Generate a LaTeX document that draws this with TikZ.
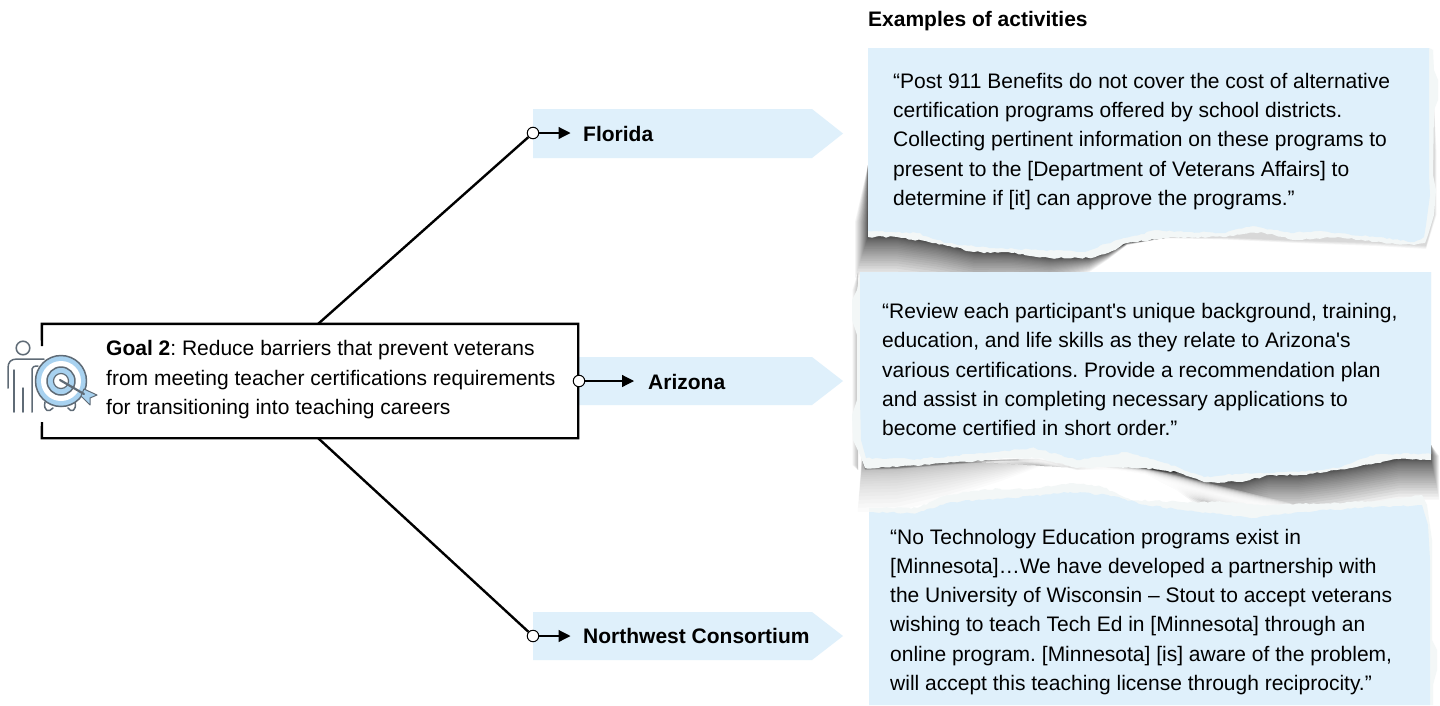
\documentclass[tikz,border=0pt]{standalone}
\usepackage{fontspec}
\newfontfamily\arialf{Liberation Sans}
\usetikzlibrary{arrows.meta,decorations.pathmorphing}
\AtBeginDocument{\frenchspacing}
\definecolor{paper}{HTML}{DFF0FB}
\definecolor{rim}{HTML}{F3F7F7}
\definecolor{iconline}{HTML}{5F6B76}
\definecolor{iconblue}{HTML}{A8D2F0}
\tikzset{
  quote/.style={anchor=west,align=left,inner sep=0pt,font=\arialf\fontsize{21}{29.1}\selectfont},
  goaltext/.style={anchor=west,align=left,inner sep=0pt,font=\arialf\fontsize{21}{29.5}\selectfont},
  place/.style={anchor=west,inner sep=0pt,font=\arialf\bfseries\fontsize{21}{24}\selectfont},
  banner/.style={fill=paper},
  port/.style={circle,draw=black,fill=white,line width=1pt,minimum size=11.5pt,inner sep=0pt},
  heavy/.style={draw=black,line width=2.4pt},
  light/.style={draw=black,line width=1.2pt,-{Triangle[length=12pt,width=12pt]}},
  torn/.style={decoration={random steps,segment length=3.5pt,amplitude=.9pt}},
  ic/.style={draw=iconline,line width=1.5pt,line cap=round,line join=round},
}
\begin{document}
\begin{tikzpicture}[x=1pt,y=-1pt]
\useasboundingbox (0,0) rectangle (1440,705);
\fill[white] (0,0) rectangle (1440,705);
\pgfmathsetseed{11}

% banners
\fill[banner] (533,109) -- (812,109) -- (843,133.5) -- (812,158) -- (533,158) -- cycle;
\fill[banner] (578,357) -- (812,357) -- (843,381) -- (812,405) -- (578,405) -- cycle;
\fill[banner] (533,612) -- (812,612) -- (843,636) -- (812,660) -- (533,660) -- cycle;

% shadow of panel 1
\foreach \i in {1,...,26}{
  \pgfmathsetmacro\d{.06*\i*\i}
  \fill[black,opacity=.042] (868,165) -- (868-.32*\d,222) -- (868-.32*\d,237+\d) -- (897,237+\d) -- (936,243+.98*\d) -- (974,252+.92*\d) -- (1012,253+.85*\d) -- (1050,258+.7*\d) -- (1089,258+.35*\d) -- (1108,253+.16*\d) -- (1127,243+.05*\d) -- (1165,238) -- cycle;
}
\foreach \i in {1,...,5}{
  \fill[black,opacity=.03] (1165,238) -- (1223,237+.5*\i) -- (1295,240+.6*\i) -- (1376,242+.8*\i) -- (1426,245+.8*\i) -- (1434+.5*\i,215) -- (1434+.5*\i,150) -- (1434,105) -- cycle;
}
% shadow of panel 2
\foreach \i in {1,...,20}{
  \pgfmathsetmacro\d{.11*\i*\i}
  \fill[black,opacity=.016] (862,455) -- (862-.1*\d,468+\d) -- (897,467+\d) -- (947,463+.8*\d) -- (1001,459+.5*\d) -- (1039,458+.2*\d) -- (1077,468) -- cycle;
}
\foreach \i in {1,...,5}{
  \fill[black,opacity=.09] (862,460) -- (865,468+.4*\i) -- (897,467+.4*\i) -- (947,463+.4*\i) -- (1001,459+.4*\i) -- (1039,458+.4*\i) -- (1077,468+.4*\i) -- (1108,467+.4*\i) -- (1146,468+.4*\i) -- (1177,472+.4*\i) -- (1177,460) -- cycle;
}
\foreach \i in {1,...,26}{
  \pgfmathsetmacro\d{.06*\i*\i}
  \fill[black,opacity=.042] (1085,460) -- (1108,467+.03*\d) -- (1146,468+.15*\d) -- (1177,472+.45*\d) -- (1204,482+.7*\d) -- (1242,482+.9*\d) -- (1269,475+\d) -- (1299,475+\d) -- (1337,470+\d) -- (1376,463+\d) -- (1399,459+\d) -- (1431+.2*\d,459+\d) -- (1431+.2*\d,456) -- (1431,445) -- cycle;
}
\foreach \w in {2,4,...,18}{
  \draw[white,opacity=.28,line width=\w pt] (1020,452) .. controls (1110,468) and (1180,485) .. (1300,515);
}
\foreach \i in {1,...,8}{
  \fill[black,opacity=.03] (858,272) -- (858-.7*\i,290) -- (858-.7*\i,465) -- (858,470) -- cycle;
}

% panel 1
\fill[rim,torn] (868,48) -- (1429,48) -- (1433,50) -- (1434,70) -- (1438,80) -- (1438,100) -- (1434,110) -- (1433,175) -- (1436,190) -- (1434,215) -- (1428,235) decorate { -- (1425,243) -- (1414,245) -- (1376,242) -- (1338,237) -- (1295,240) -- (1261,232) -- (1223,237) -- (1165,238) -- (1127,243) -- (1108,253) -- (1089,258) -- (1050,258) -- (1012,253) -- (974,252) -- (936,243) -- (897,237) -- (868,237)} -- cycle;
\fill[paper,torn] (868,48) -- (1429,48) -- (1429,175) -- (1430,195) -- (1426,225) -- (1424,237) decorate { -- (1414,242) -- (1376,237) -- (1318,231) -- (1291,233) -- (1253,226) -- (1223,233) -- (1184,232) -- (1158,230) -- (1116,240) -- (1085,252) -- (1039,250) -- (993,248) -- (947,243) -- (917,233) -- (868,231)} -- cycle;

% panel 2
\fill[rim,torn] (860,272) -- (857,290) -- (852,300) -- (852,320) -- (857,335) -- (857,400) -- (852,415) -- (853,440) -- (860,455) -- (865,468) decorate { -- (897,467) -- (947,463) -- (1001,459) -- (1039,458) -- (1077,468) -- (1108,467) -- (1146,468) -- (1177,472) -- (1204,482) -- (1242,482) -- (1269,475) -- (1299,475) -- (1337,470) -- (1376,463) -- (1399,459) -- (1431,460)} -- (1431,272) -- cycle;
\fill[paper,torn] (860,272) -- (860,400) -- (861,440) -- (866,458) decorate { -- (917,459) -- (974,454) -- (1035,448) -- (1077,460) -- (1127,452) -- (1165,463) -- (1204,477) -- (1246,473) -- (1299,472) -- (1337,468) -- (1376,454) -- (1431,454)} -- (1431,272) -- cycle;

% panel 3
\fill[rim,torn] (869,705) -- (869,508) decorate { -- (917,508) -- (947,495) -- (985,489) -- (1031,489) -- (1070,483) -- (1100,486) -- (1131,500) -- (1184,502) -- (1223,502) -- (1261,505) -- (1337,503) -- (1376,501) -- (1422,495)} -- (1427,505) -- (1432,540) -- (1432,640) -- (1437,650) -- (1437,670) -- (1433,685) -- (1433,705) -- cycle;
\fill[paper,torn] (869,705) -- (869,512) decorate { -- (917,513) -- (951,502) -- (1012,498) -- (1070,492) -- (1108,495) -- (1146,505) -- (1199,512) -- (1253,518) -- (1299,512) -- (1376,507) -- (1422,505)} -- (1428,525) -- (1430,560) -- (1430,705) -- cycle;

% heading and quotes
\node[anchor=west,inner sep=0pt,font=\arialf\bfseries\fontsize{21}{24}\selectfont] (head) at (868,21.5) {Examples of activities};
\node[quote] (q1) at (893,141.5) {“Post 911 Benefits do not cover the cost of alternative\\certification programs offered by school districts.\\Collecting pertinent information on these programs to\\present to the [Department of Veterans Affairs] to\\determine if [it] can approve the programs.”};
\node[quote] (q2) at (882,369.5) {“Review each participant's unique background, training,\\education, and life skills as they relate to Arizona's\\various certifications. Provide a recommendation plan\\and assist in completing necessary applications to\\become certified in short order.”};
\node[quote] (q3) at (890,612) {“No Technology Education programs exist in\\{[}Minnesota]…We have developed a partnership with\\the University of Wisconsin – Stout to accept veterans\\wishing to teach Tech Ed in [Minnesota] through an\\online program. [Minnesota] [is] aware of the problem,\\will accept this teaching license through reciprocity.”};

% goal box
\node[minimum width=536pt,minimum height=114pt,inner sep=0pt] (goal) at (310,381) {};
\coordinate (goalUp) at (318,324);
\coordinate (goalDown) at (318,438);
\coordinate (gapA) at (42,346);
\coordinate (gapB) at (42,422);
\draw[heavy] (gapA) -- (goal.north west) -- (goal.north east) -- (goal.south east) -- (goal.south west) -- (gapB);
\node[goaltext] (goaltxt) at (106,380) {\textbf{Goal 2}: Reduce barriers that prevent veterans\\from meeting teacher certifications requirements\\for transitioning into teaching careers};

% ports and connectors
\node[port] (pF) at (533,133) {};
\node[port] (pA) at (579,381) {};
\node[port] (pN) at (533,636) {};
\node[place] (lF) at (583,134) {Florida};
\node[place] (lA) at (648,382) {Arizona};
\node[place] (lN) at (583,636) {Northwest Consortium};
\coordinate (tF) at (570.5,133);
\coordinate (tA) at (634,381);
\coordinate (tN) at (570.5,636);
\draw[heavy] (goalUp) -- (pF);
\draw[heavy] (goalDown) -- (pN);
\draw[light] (pF) -- (tF);
\draw[light] (pA) -- (tA);
\draw[light] (pN) -- (tN);

% icon
\draw[ic] (23,348) circle (6.8);
\draw[ic] (8,388) -- (8,368) .. controls (8,362) and (11,359) .. (17,359) -- (44,359);
\draw[ic] (14,370) -- (14,412);
\draw[ic] (23,388) -- (23,412);
\draw[ic] (32,412) -- (32,369) .. controls (32,367) and (34,366) .. (38,366);
\draw[ic] (45,402) .. controls (43,411) and (49,413) .. (53,408);
\draw[ic] (75,402) .. controls (77,411) and (71,413) .. (68,408);
\draw[ic,fill=iconblue] (61,381) circle (25.5);
\draw[ic,draw=none,fill=white] (61,381) circle (20);
\draw[ic,fill=iconblue] (61,381) circle (14);
\draw[ic,fill=white,line width=1.2pt] (61,381) circle (7.5);
\draw[ic,fill=iconblue,line width=1pt] (84,389) -- (97,395) -- (90,398) -- (90,405) -- (81,396) -- cycle;
\draw[ic,line width=2.2pt] (60,380) -- (84,394);
\end{tikzpicture}
\end{document}
